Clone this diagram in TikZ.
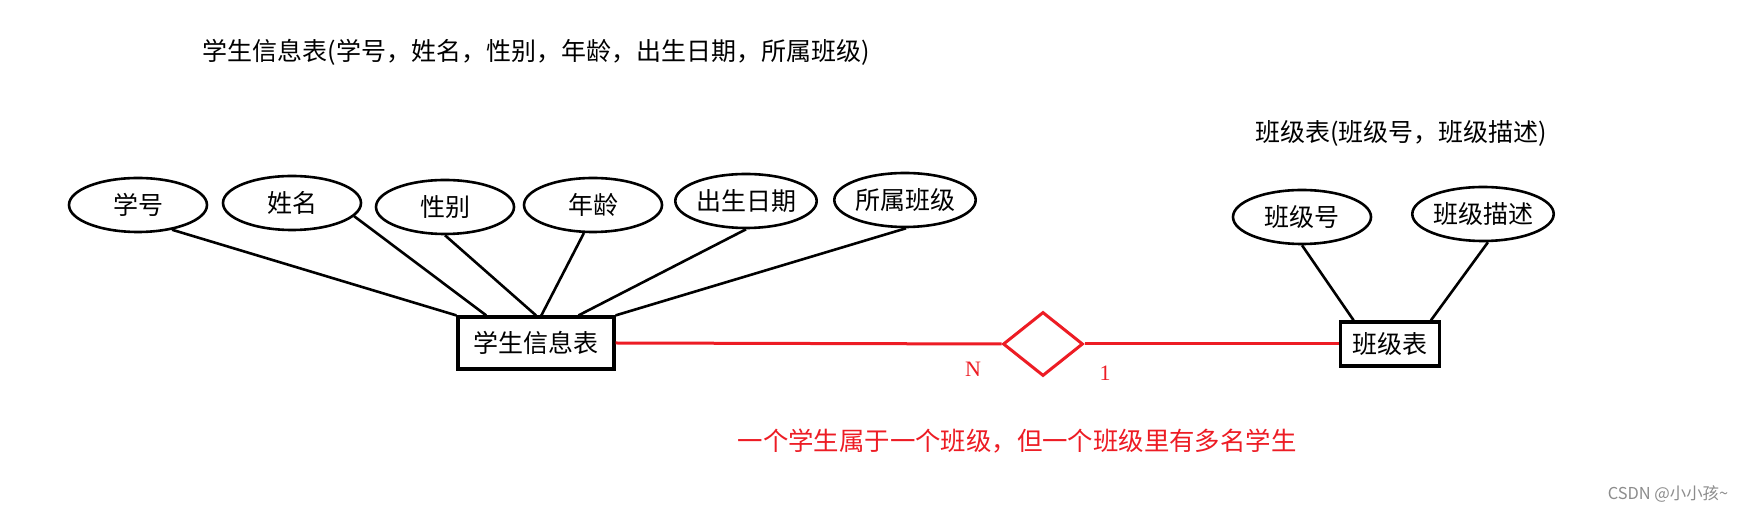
\documentclass[tikz,border=0pt]{standalone}
\usepackage{fontspec}
\setmainfont{Noto Sans CJK SC}
\newfontfamily\numfont{Liberation Serif}
\usetikzlibrary{shapes.geometric}
\definecolor{erred}{RGB}{237,28,36}
\begin{document}
\begin{tikzpicture}[
x=0.5pt, y=-0.5pt,
every node/.style={font=\fontsize{12.5}{13}\selectfont},
attr/.style={ellipse, draw, line width=1.3pt, minimum width=69pt, minimum height=27pt, inner sep=0pt},
entity/.style={rectangle, draw, line width=1.6pt, inner sep=0pt},
rel/.style={diamond, draw=erred, line width=1.5pt, minimum width=40pt, minimum height=32pt, inner sep=0pt},
link/.style={line width=1.3pt},
rlink/.style={draw=erred, line width=1.5pt}
]
\fill[white] (0,0) rectangle (1741,512);
\useasboundingbox (0,0) rectangle (1741,512);

% titles
\node (t1) at (536,52) {学生信息表(学号，姓名，性别，年龄，出生日期，所属班级)};
\node (t2) at (1401,133) {班级表(班级号，班级描述)};

% entities and relation
\node[entity, minimum width=78pt, minimum height=26pt] (stu) at (536,343) {学生信息表};
\node[entity, minimum width=49.5pt, minimum height=22pt] (bj) at (1390,344) {班级表};
\node[rel] (rel) at (1043,344) {};

% attributes
\node[attr] (xh) at (138,205) {学号};
\node[attr] (xm) at (292,203) {姓名};
\node[attr] (xb) at (445,207) {性别};
\node[attr] (nl) at (593,205) {年龄};
\node[attr] (csrq) at (746,201) {出生日期};
\node[attr] (ssbj) at (905,200) {所属班级};
\node[attr] (bjh) at (1302,217) {班级号};
\node[attr] (bjms) at (1483,214) {班级描述};

\draw[link] (xh.-36) -- (stu.north west);
\draw[link] (xm.-12) -- (stu.151.6);
\draw[link] (xb.south) -- (stu.north);
\draw[link] (nl.-108) -- (stu.79);
\draw[link] (csrq.south) -- (stu.33);
\draw[link] (ssbj.-88) -- (stu.north east);
\draw[link] (bjh.south) -- (bj.147);
\draw[link] (bjms.-80) -- (bj.30);

\draw[rlink] (stu.east) -- (rel.west);
\draw[rlink] (rel.east) -- (bj.west);

% cardinalities
\node[text=erred, font=\numfont\fontsize{11}{11}\selectfont] (n) at (973,369) {N};
\node[text=erred, font=\numfont\fontsize{11}{11}\selectfont] (one) at (1105,373) {1};

\node[text=erred, font=\fontsize{12.7}{13}\selectfont] (note) at (1017,441) {一个学生属于一个班级，但一个班级里有多名学生};
\node[text=black!45, font=\fontsize{8.2}{8}\selectfont] (wm) at (1668,494) {CSDN @小小孩\textasciitilde};
\end{tikzpicture}
\end{document}
